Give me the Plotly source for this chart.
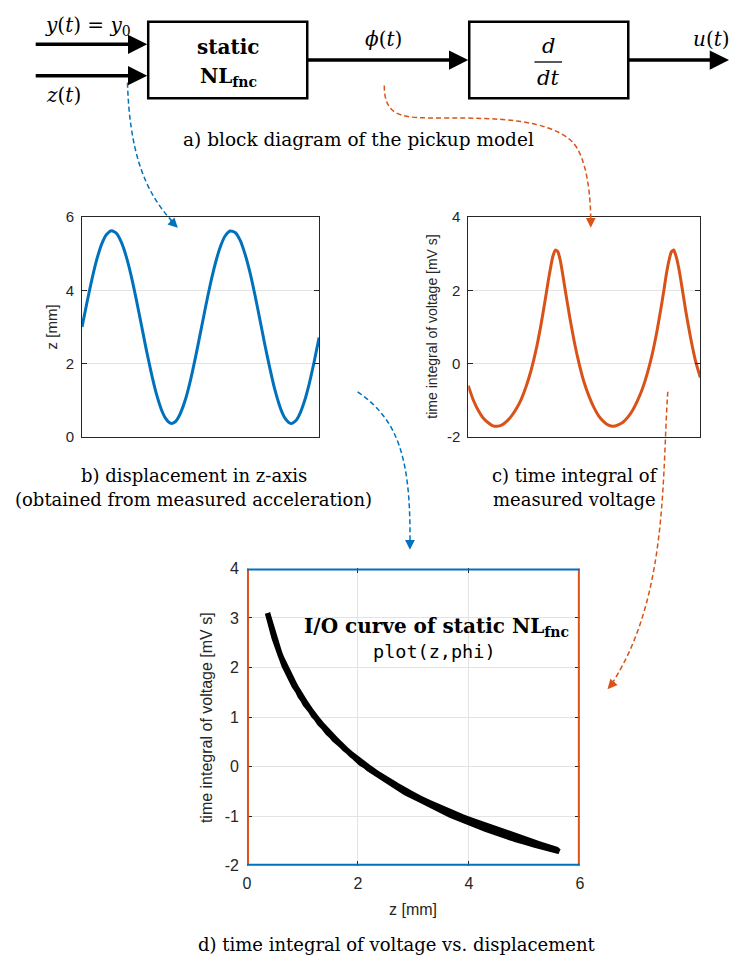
import plotly.graph_objects as go

W, H = 735, 971


def px(x):
    return x / W


def py(y):
    return 1 - y / H


# ---------------- data ----------------
t = [0, 1, 2, 3, 4, 5, 6, 7, 8, 9, 10, 11, 12, 13, 14, 15, 16, 16.5, 17, 17.5, 18, 18.5,
     19, 19.5, 20, 21, 22, 23, 24, 25, 26, 27, 28, 29, 30, 31, 32, 33, 34, 35, 36, 37,
     38, 39, 40, 40.5, 41, 41.5, 42, 42.5, 43, 43.5, 44, 45, 46, 47, 48]
z = [3.00, 3.67, 4.30, 4.85, 5.27, 5.53, 5.63, 5.55, 5.30, 4.90, 4.37, 3.74,
     3.07, 2.39, 1.76, 1.20, 0.77, 0.61, 0.49, 0.41, 0.37, 0.38,
     0.43, 0.53, 0.67, 1.05, 1.57, 2.19, 2.86, 3.54, 4.18, 4.74, 5.19, 5.49, 5.62,
     5.58, 5.37, 4.99, 4.49, 3.88, 3.21, 2.53, 1.89, 1.31, 0.85, 0.67, 0.53, 0.44,
     0.38, 0.37, 0.41, 0.48, 0.60, 0.96, 1.45, 2.05, 2.71]
phi = [-0.60, -0.98, -1.26, -1.47, -1.60, -1.69, -1.71, -1.67, -1.57, -1.42,
       -1.22, -0.96, -0.61, -0.18, 0.36, 1.03, 1.81, 2.22, 2.60, 2.93, 3.10, 3.06,
       2.84, 2.47, 2.05, 1.26, 0.55, -0.04, -0.53, -0.90, -1.20, -1.43, -1.58,
       -1.68, -1.71, -1.67, -1.60, -1.46, -1.27, -1.01, -0.69, -0.28, 0.23, 0.87,
       1.63, 2.04, 2.47, 2.81, 3.05, 3.10, 2.92, 2.63, 2.25, 1.42, 0.69, 0.07, -0.38]

z_ticks = [0, 2, 4, 6]
z_ticktext = ["0", "2", "4", "6"]
phi_ticks_c = [-2, 0, 2, 4]
phi_ticktext_c = ["-2", "0", "2", "4"]
phi_ticks_d = [-2, -1, 0, 1, 2, 3, 4]
phi_ticktext_d = ["-2", "-1", "0", "1", "2", "3", "4"]

BLUE = "#0072BD"
ORANGE = "#D95319"
AXC = "#262626"
GRID = "#e3e3e3"
SANS = "Liberation Sans, Arial, sans-serif"
SERIF = "DejaVu Serif, serif"
MONO = "DejaVu Sans Mono, monospace"

fig = go.Figure()
fig.add_trace(go.Scatter(x=t, y=z, mode="lines", line=dict(color=BLUE, width=3, shape="spline", smoothing=0.6),
                         xaxis="x", yaxis="y", showlegend=False, hoverinfo="skip"))
fig.add_trace(go.Scatter(x=t, y=phi, mode="lines", line=dict(color=ORANGE, width=3, shape="spline", smoothing=0.5),
                         xaxis="x2", yaxis="y2", showlegend=False, hoverinfo="skip"))
fig.add_trace(go.Scatter(x=z, y=phi, mode="lines", line=dict(color="black", width=5.5),
                         xaxis="x3", yaxis="y3", showlegend=False, hoverinfo="skip"))

box_common = dict(showline=True, linecolor=AXC, linewidth=1, zeroline=False)
ytick_common = dict(ticks="inside", ticklen=5, tickcolor=AXC, showgrid=True, gridcolor=GRID,
                    ticklabelstandoff=4)

fig.update_layout(
    width=W, height=H, margin=dict(l=0, r=0, t=0, b=0),
    paper_bgcolor="white", plot_bgcolor="white",
    xaxis=dict(domain=[px(79), px(319)], range=[0, 48], showticklabels=False, ticks="",
               showgrid=False, anchor="y", mirror=True, **box_common),
    yaxis=dict(domain=[py(436), py(212)], range=[0, 6], tickvals=z_ticks, ticktext=z_ticktext,
               anchor="x", mirror="allticks", tickfont=dict(family=SANS, size=15, color=AXC),
               **ytick_common, **box_common),
    xaxis2=dict(domain=[px(470), px(705)], range=[0, 48], showticklabels=False, ticks="",
                showgrid=False, anchor="y2", mirror=True, **box_common),
    yaxis2=dict(domain=[py(436), py(212)], range=[-2, 4], tickvals=phi_ticks_c, ticktext=phi_ticktext_c,
                anchor="x2", mirror="allticks", tickfont=dict(family=SANS, size=15, color=AXC),
                **ytick_common, **box_common),
    xaxis3=dict(domain=[px(246), px(583)], range=[0, 6], tickvals=z_ticks, ticktext=z_ticktext,
                ticks="inside", ticklen=5, tickcolor=AXC, showgrid=True, gridcolor=GRID, anchor="y3",
                showline=False, zeroline=False, mirror="ticks", ticklabelstandoff=6,
                tickfont=dict(family=SANS, size=16, color=AXC)),
    yaxis3=dict(domain=[py(873), py(570)], range=[-2, 4], tickvals=phi_ticks_d, ticktext=phi_ticktext_d,
                ticks="inside", ticklen=5, tickcolor=AXC, showgrid=True, gridcolor=GRID, anchor="x3",
                showline=False, zeroline=False, mirror="ticks", ticklabelstandoff=7,
                tickfont=dict(family=SANS, size=16, color=AXC)),
)

shapes = []
annotations = []

# colored frame of panel d
for xv in (0, 6):
    shapes.append(dict(type="line", xref="x3", yref="y3", x0=xv, x1=xv, y0=-2, y1=4,
                       line=dict(color=ORANGE, width=4)))
for yv in (4, -2):
    shapes.append(dict(type="line", xref="x3", yref="y3", x0=0, x1=6, y0=yv, y1=yv,
                       line=dict(color=BLUE, width=4)))

# block diagram boxes
for (x0, x1) in ((146, 307), (471, 632)):
    shapes.append(dict(type="rect", xref="paper", yref="paper", x0=px(x0), x1=px(x1), y0=py(91), y1=py(13),
                       line=dict(color="black", width=2.5)))
# fraction bar d/dt
shapes.append(dict(type="line", xref="paper", yref="paper", x0=px(537), x1=px(565), y0=py(54), y1=py(54),
                   line=dict(color="black", width=1.3)))


def bez(pts):
    s = "M %.5f,%.5f" % (px(pts[0][0]), py(pts[0][1]))
    i = 1
    while i + 2 <= len(pts) - 1:
        s += " C %.5f,%.5f %.5f,%.5f %.5f,%.5f" % (px(pts[i][0]), py(pts[i][1]), px(pts[i + 1][0]),
                                                   py(pts[i + 1][1]), px(pts[i + 2][0]), py(pts[i + 2][1]))
        i += 3
    return s


dashed = [
    ([(125, 75), (127, 140), (140, 185), (172, 218)], BLUE),
    ([(385, 78), (385, 112), (405, 111), (445, 111), (500, 111), (550, 112), (575, 135),
      (590, 150), (594, 190), (594, 216)], ORANGE),
    ([(358, 390), (398, 418), (412, 455), (411, 545)], BLUE),
    ([(672, 390), (666, 480), (672, 600), (615, 688)], ORANGE),
]
for pts, col in dashed:
    shapes.append(dict(type="path", xref="paper", yref="paper", path=bez(pts),
                       line=dict(color=col, width=1.5, dash="5px,3px")))

heads = [((176, 223), (-9, -9), BLUE), ((594, 223), (0, -10), ORANGE),
         ((411, 551), (0, -10), BLUE), ((611, 693), (8, -9), ORANGE)]
for (hx, hy), (ax, ay), col in heads:
    annotations.append(dict(x=px(hx), y=py(hy), xref="paper", yref="paper", text="", showarrow=True,
                            ax=ax, ay=ay, arrowhead=2, arrowsize=1.3, arrowwidth=1.5, arrowcolor=col,
                            standoff=0))

# solid block arrows
arrows = [((145, 36), (32, 36)), ((145, 68), (32, 68)), ((470, 52), (307, 52)), ((734, 52), (632, 52))]
for (hx, hy), (tx, ty) in arrows:
    annotations.append(dict(x=px(hx), y=py(hy), xref="paper", yref="paper", text="", showarrow=True,
                            ax=tx - hx, ay=ty - hy, arrowhead=2, arrowsize=1.1, arrowwidth=3.5,
                            arrowcolor="black", standoff=0))


def label(x, y, text, size=17, family=SERIF, angle=0, color="black", xanchor="center"):
    annotations.append(dict(x=px(x), y=py(y), xref="paper", yref="paper", text=text, showarrow=False,
                            font=dict(family=family, size=size, color=color), textangle=angle,
                            xanchor=xanchor, yanchor="middle"))


label(85, 17, "<i>y</i>(<i>t</i>) = <i>y</i><sub>0</sub>", size=20)
label(60, 88, "<i>z</i>(<i>t</i>)", size=20)
label(384, 31, "<i>ϕ</i>(<i>t</i>)", size=20)
label(716, 31, "<i>u</i>(<i>t</i>)", size=20)
label(227, 39, "<b>static</b>", size=20)
label(227, 69, "<b>NL<sub>fnc</sub></b>", size=20)
label(551, 38, "<i>d</i>", size=21)
label(551, 70, "<i>dt</i>", size=21)
label(359, 133, "a) block diagram of the pickup model", size=18.5)
label(192, 475, "b) displacement in z-axis", size=18)
label(192, 500, "(obtained from measured acceleration)", size=18)
label(578, 475, "c) time integral of", size=18)
label(578, 500, "measured voltage", size=18)
label(398, 953, "d) time integral of voltage vs. displacement", size=18)
label(438, 630, "<b>I/O curve of static NL<sub>fnc</sub></b>", size=20)
label(436, 655, "plot(z,phi)", size=18.5, family=MONO)

# axis titles
label(49, 324, "z [mm]", size=15, family=SANS, angle=-90, color=AXC)
label(433, 324, "time integral of voltage [mV s]", size=14, family=SANS, angle=-90, color=AXC)
label(205, 722, "time integral of voltage [mV s]", size=16, family=SANS, angle=-90, color=AXC)
label(414, 917, "z [mm]", size=16, family=SANS, color=AXC)

fig.update_layout(shapes=shapes, annotations=annotations, hovermode=False)
fig.write_html("out.html", config={"displayModeBar": False, "staticPlot": True},
               post_script="document.body.style.margin='0';document.body.style.overflow='hidden';")
